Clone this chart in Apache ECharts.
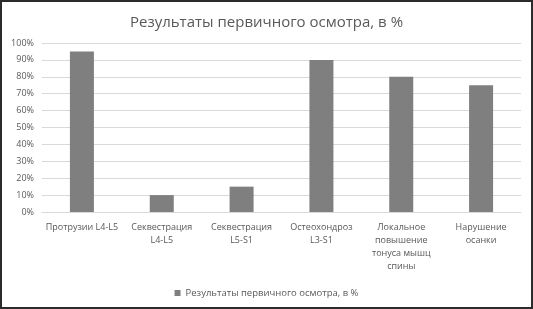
<!DOCTYPE html>
<html>
<head>
<meta charset="utf-8">
<script src="https://cdn.jsdelivr.net/npm/echarts@6/dist/echarts.min.js"></script>
<style>
  html, body { margin: 0; padding: 0; background: #fff; }
  #main {
    width: 533px;
    height: 309px;
    box-sizing: border-box;
    border: 2px solid #2b2b2b;
  }
</style>
</head>
<body>
<div id="main"></div>
<script>
var categories = [
  'Протрузии L4-L5',
  'Секвестрация\nL4-L5',
  'Секвестрация\nL5-S1',
  'Остеохондроз\nL3-S1',
  'Локальное\nповышение\nтонуса мышц\nспины',
  'Нарушение\nосанки'
];
var values = [95, 10, 15, 90, 80, 75];
var seriesName = 'Результаты первичного осмотра, в %';

var chart = echarts.init(document.getElementById('main'));

var option = {
  animation: false,
  backgroundColor: '#fff',
  textStyle: { fontFamily: 'Open Sans' },
  title: {
    text: 'Результаты первичного осмотра, в %',
    left: 'center',
    top: 8,
    textStyle: { fontSize: 15, fontWeight: 'normal', color: '#595959', fontFamily: 'Open Sans' }
  },
  legend: {
    bottom: 4,
    left: 'center',
    itemWidth: 6,
    itemHeight: 6,
    itemGap: 4,
    icon: 'rect',
    textStyle: { fontSize: 9.5, color: '#595959' },
    data: [seriesName]
  },
  grid: { left: 40, right: 10, top: 41, bottom: 95 },
  xAxis: {
    type: 'category',
    data: categories,
    axisTick: { show: false },
    axisLine: { lineStyle: { color: '#d9d9d9' } },
    axisLabel: { interval: 0, fontSize: 9, lineHeight: 13, color: '#595959', margin: 9 }
  },
  yAxis: {
    type: 'value',
    min: 0,
    max: 100,
    interval: 10,
    axisLine: { show: false },
    axisTick: { show: false },
    splitLine: { lineStyle: { color: '#d9d9d9' } },
    axisLabel: { formatter: '{value}%', fontSize: 9, color: '#595959', margin: 8 }
  },
  series: [{
    name: seriesName,
    type: 'bar',
    data: values,
    barWidth: 24,
    itemStyle: { color: '#7f7f7f' }
  }]
};

chart.setOption(option);
</script>
</body>
</html>
